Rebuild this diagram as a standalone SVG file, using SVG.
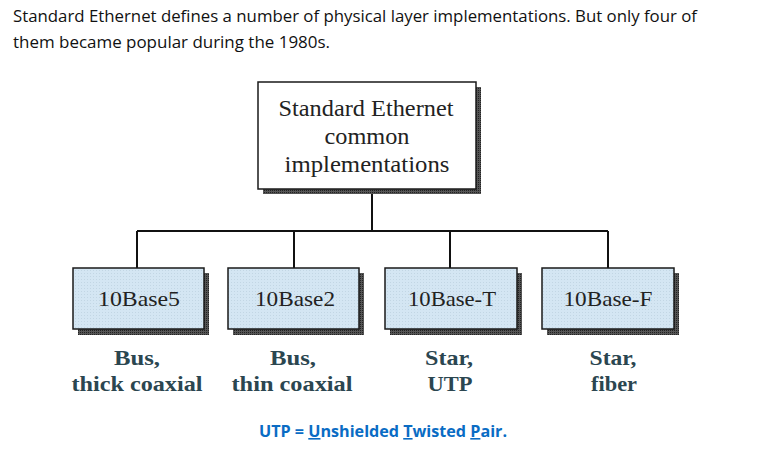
<svg xmlns="http://www.w3.org/2000/svg" width="760" height="456" viewBox="0 0 760 456">
<defs>
<pattern id="dots" width="3" height="3" patternUnits="userSpaceOnUse">
<rect width="3" height="3" fill="#d4e6f3"/>
<rect width="1" height="1" fill="#c2d6e4"/>
</pattern>
<pattern id="shad" width="2" height="2" patternUnits="userSpaceOnUse">
<rect width="2" height="2" fill="#555"/>
<rect width="1" height="1" fill="#222"/>
</pattern>
</defs>
<style>
.hdr{font-family:"Open Sans","Liberation Sans",sans-serif;font-size:16px;fill:#111}
.box{stroke:#1a1a1a;stroke-width:1.5}
.shadow{fill:url(#shad)}
.serif{font-family:"Liberation Serif","DejaVu Serif",serif;fill:#222;text-anchor:middle}
.lbl{font-family:"Liberation Serif","DejaVu Serif",serif;font-weight:bold;font-size:22px;fill:#2b4650;text-anchor:middle}
.conn{fill:none;stroke:#111;stroke-width:2}
.utp{font-family:"Open Sans","Liberation Sans",sans-serif;font-weight:bold;font-size:16px;fill:#0a6cc4}
</style>
<rect width="760" height="456" fill="#fff"/>
<text class="hdr" x="13" y="22" textLength="684" lengthAdjust="spacingAndGlyphs">Standard Ethernet defines a number of physical layer implementations. But only four of</text>
<text class="hdr" x="13" y="48" textLength="317" lengthAdjust="spacingAndGlyphs">them became popular during the 1980s.</text>
<g id="connectors">
<path class="conn" d="M372 194 V231 M137 231 H608 M137 231 V268 M294 231 V268 M450 231 V268 M608 231 V268"/>
</g>
<g id="root">
<rect class="shadow" x="263" y="87" width="218" height="107"/>
<rect class="box" x="258" y="82" width="218" height="107" fill="#fff"/>
<text class="serif" font-size="23" x="366" y="116" textLength="175" lengthAdjust="spacingAndGlyphs">Standard Ethernet</text>
<text class="serif" font-size="23" x="367" y="144" textLength="85" lengthAdjust="spacingAndGlyphs">common</text>
<text class="serif" font-size="23" x="367" y="172" textLength="165" lengthAdjust="spacingAndGlyphs">implementations</text>
</g>
<g id="n10base5">
<rect class="shadow" x="78" y="273" width="131" height="62"/>
<rect class="box" x="73" y="268" width="131" height="61" fill="url(#dots)"/>
<text class="serif" font-size="21" x="139" y="306" textLength="82" lengthAdjust="spacingAndGlyphs">10Base5</text>
<text class="lbl" x="137" y="365" textLength="46" lengthAdjust="spacingAndGlyphs">Bus,</text>
<text class="lbl" x="137" y="391" textLength="131" lengthAdjust="spacingAndGlyphs">thick coaxial</text>
</g>
<g id="n10base2">
<rect class="shadow" x="233" y="273" width="131" height="62"/>
<rect class="box" x="228" y="268" width="131" height="61" fill="url(#dots)"/>
<text class="serif" font-size="21" x="295" y="306" textLength="80" lengthAdjust="spacingAndGlyphs">10Base2</text>
<text class="lbl" x="293" y="365" textLength="46" lengthAdjust="spacingAndGlyphs">Bus,</text>
<text class="lbl" x="292" y="391" textLength="121" lengthAdjust="spacingAndGlyphs">thin coaxial</text>
</g>
<g id="n10baseT">
<rect class="shadow" x="390" y="273" width="132" height="62"/>
<rect class="box" x="385" y="268" width="132" height="61" fill="url(#dots)"/>
<text class="serif" font-size="21" x="452" y="306" textLength="88" lengthAdjust="spacingAndGlyphs">10Base-T</text>
<text class="lbl" x="449" y="365" textLength="48" lengthAdjust="spacingAndGlyphs">Star,</text>
<text class="lbl" x="450" y="391" textLength="45" lengthAdjust="spacingAndGlyphs">UTP</text>
</g>
<g id="n10baseF">
<rect class="shadow" x="547" y="273" width="132" height="62"/>
<rect class="box" x="542" y="268" width="132" height="61" fill="url(#dots)"/>
<text class="serif" font-size="21" x="608" y="306" textLength="89" lengthAdjust="spacingAndGlyphs">10Base-F</text>
<text class="lbl" x="613" y="365" textLength="47" lengthAdjust="spacingAndGlyphs">Star,</text>
<text class="lbl" x="614" y="391" textLength="46" lengthAdjust="spacingAndGlyphs">fiber</text>
</g>
<text class="utp" x="259" y="437" textLength="248" lengthAdjust="spacingAndGlyphs">UTP = <tspan text-decoration="underline">U</tspan>nshielded <tspan text-decoration="underline">T</tspan>wisted <tspan text-decoration="underline">P</tspan>air.</text>
</svg>
